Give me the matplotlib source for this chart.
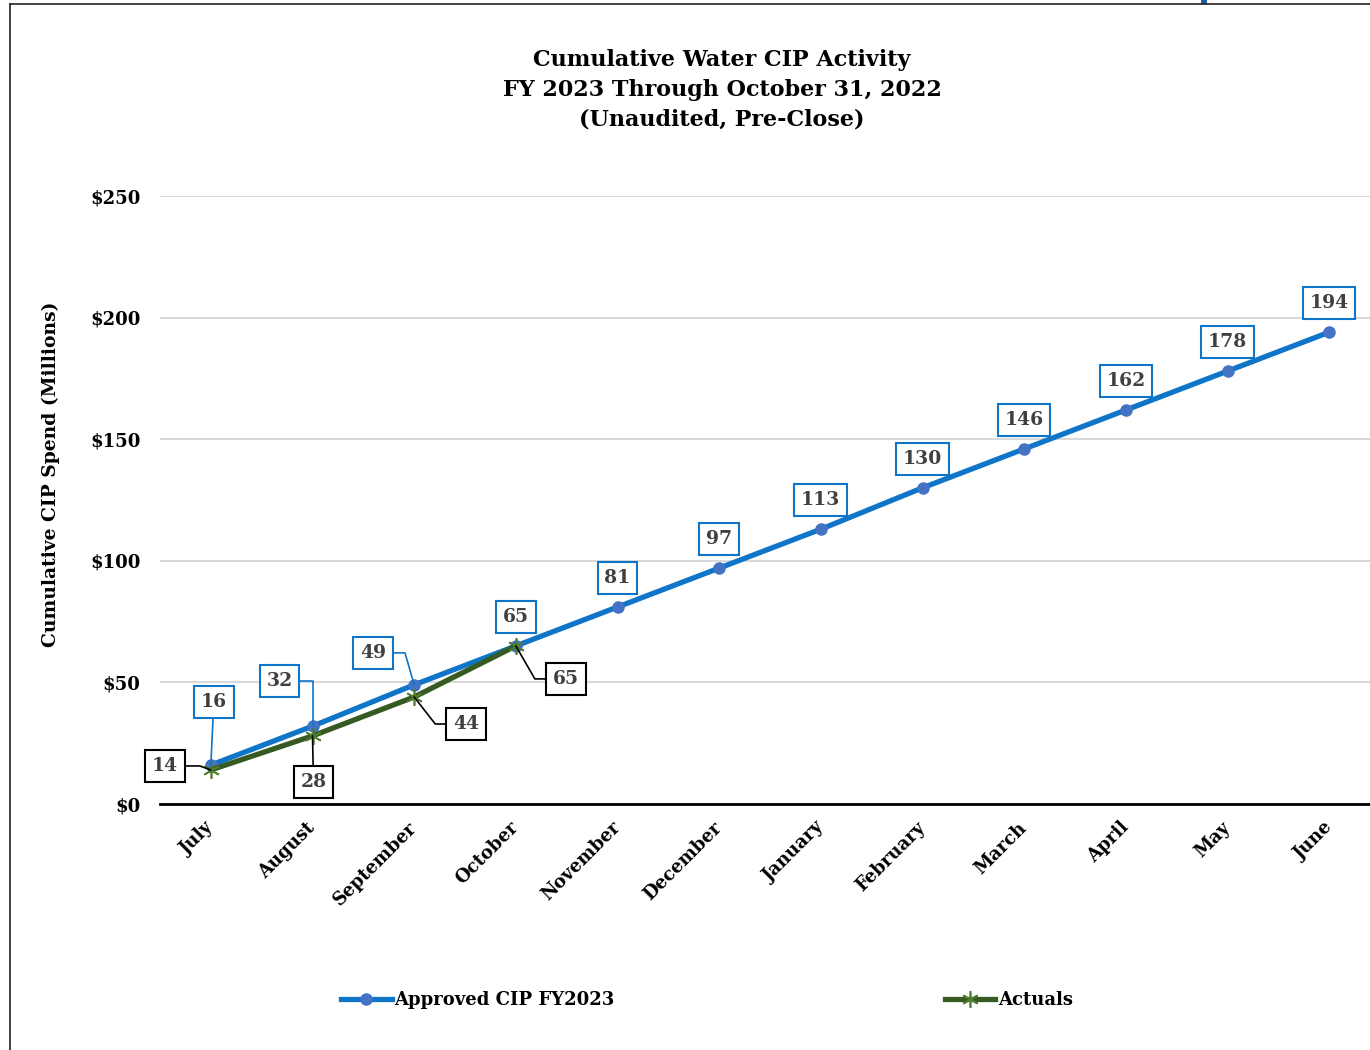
import matplotlib
matplotlib.use("agg")
import matplotlib.pyplot as plt
from matplotlib.lines import Line2D
from matplotlib.patches import Rectangle

months = ["July", "August", "September", "October", "November", "December",
          "January", "February", "March", "April", "May", "June"]
approved = [16, 32, 49, 65, 81, 97, 113, 130, 146, 162, 178, 194]
actuals = [14, 28, 44, 65]
yticks = [0, 50, 100, 150, 200, 250]

# label offsets (pixels) and leader connection style per point
approved_off = [(3, 63, "arc3"), (-33, 45, "angle,angleA=0,angleB=90"),
                (-41, 32, "angle,angleA=0,angleB=106")] + [(0, 29, None)] * 9
actual_off = [(-46, 4, "angle,angleA=0,angleB=-20"), (1, -46, "arc3"),
              (52, -27, "angle,angleA=0,angleB=-52"),
              (50, -33, "angle,angleA=0,angleB=-60")]

BLUE = "#0F75C8"
GREEN = "#375A23"
TXT = "#404040"

plt.rcParams["font.family"] = ["DejaVu Serif"]
plt.rcParams["font.weight"] = "bold"
plt.rcParams["axes.labelweight"] = "bold"

W, H = 1370, 1050
fig = plt.figure(figsize=(W / 100, H / 100), dpi=100)
ax = fig.add_axes([160 / W, (H - 804) / H, 1220 / W, 608 / H])

x = list(range(len(months)))
ax.plot(x, approved, color=BLUE, lw=3.8, marker="o", ms=8,
        mfc="#4472C4", mec="#4472C4", zorder=3, label="Approved CIP FY2023")
ax.plot(x[:len(actuals)], actuals, color=GREEN, lw=3.8, marker=(6, 2, 0), ms=12,
        mec="#4E7D2D", mew=1.2, zorder=4, label="Actuals")

ax.set_xlim(-0.5, len(months) - 0.5)
ax.set_ylim(0, 250)
ax.set_yticks(yticks)
ax.set_yticklabels([f"${v}" for v in yticks], fontsize=13)
ax.yaxis.grid(True, color="#d9d9d9", lw=1.5)
ax.set_axisbelow(True)
for s in ["top", "right", "left"]:
    ax.spines[s].set_visible(False)
ax.spines["bottom"].set_linewidth(2)
ax.tick_params(axis="both", length=0)
ax.tick_params(axis="y", pad=14)
ax.set_xticks(x)
ax.set_xticklabels(months, fontsize=13, rotation=45, ha="right",
                   va="center", rotation_mode="anchor")
ax.tick_params(axis="x", pad=15)
ax.set_ylabel("Cumulative CIP Spend (Millions)", fontsize=13.5, labelpad=20)
ax.yaxis.set_label_coords(-0.082, 0.543)


def label(xi, yi, txt, off, edge):
    dx, dy, cs = off
    ap = None
    if cs is not None:
        ap = dict(arrowstyle="-", color=edge, lw=1.2, connectionstyle=cs,
                  shrinkA=0, shrinkB=0)
    ax.annotate(txt, (xi, yi), xytext=(dx, dy), textcoords="offset pixels",
                ha="center", va="center", fontsize=13.5, color=TXT,
                bbox=dict(boxstyle="square,pad=0.36", fc="white", ec=edge, lw=1.5),
                arrowprops=ap, zorder=6)


for xi, v, off in zip(x, approved, approved_off):
    label(xi, v, str(v), off, BLUE)
for xi, v, off in zip(x, actuals, actual_off):
    label(xi, v, str(v), off, "black")

fig.text(722 / W, 1 - 90 / H,
         "Cumulative Water CIP Activity\nFY 2023 Through October 31, 2022\n(Unaudited, Pre-Close)",
         ha="center", va="center", fontsize=16, linespacing=1.45)

fig.legend(loc="center left", bbox_to_anchor=(341 / W, 1 - 1000 / H), ncol=2,
           frameon=False, fontsize=13, columnspacing=18.3, handlelength=2.8,
           handletextpad=0.15, borderpad=0, borderaxespad=0)

# outer frame
fig.add_artist(Line2D([10 / W, 10 / W], [0, 1 - 4 / H], color="#222222", lw=1.2))
fig.add_artist(Line2D([10 / W, 1], [1 - 4 / H, 1 - 4 / H], color="#222222", lw=1.2))
fig.add_artist(Rectangle((1201 / W, 1 - 4 / H), 6 / W, 4 / H,
                         transform=fig.transFigure, color="#1F5F9F", lw=0))

fig.savefig("out.png", dpi=100)
